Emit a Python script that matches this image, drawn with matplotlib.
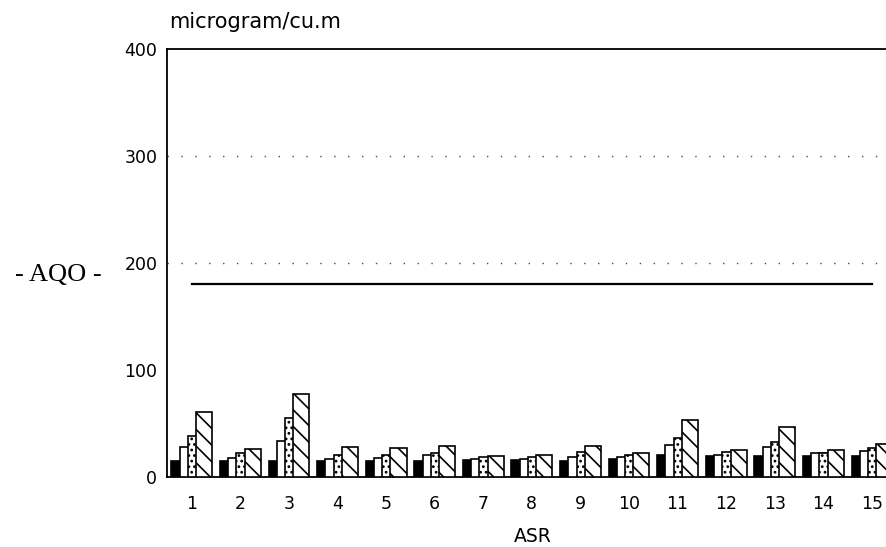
import matplotlib
matplotlib.use('Agg')
import matplotlib.pyplot as plt
import numpy as np

# ASR stations and the four measured series (microgram/cu.m)
stations = list(range(1, 16))
series_black = [15, 15, 15, 15, 15, 15, 16, 16, 15, 17, 21, 20, 20, 20, 20]
series_white = [28, 18, 34, 17, 18, 21, 17, 17, 19, 19, 30, 21, 28, 22, 24]
series_dotted = [38, 22, 55, 21, 21, 22, 19, 19, 23, 21, 36, 23, 33, 22, 27]
series_hatched = [61, 26, 78, 28, 27, 29, 20, 21, 29, 22, 53, 25, 47, 25, 31]
aqo_level = 180
ref_levels = [200, 300]
y_ticks = [0, 100, 200, 300, 400]

plt.rcParams['hatch.linewidth'] = 1.2

fig = plt.figure(figsize=(8.87, 5.47), dpi=100)
ax = fig.add_axes([167 / 887, 70 / 547, 1 - 167 / 887, 428 / 547])

x = np.array(stations)
width = 0.33
step = 0.17
styles = [
    (series_black, 'black', ''),
    (series_white, 'white', ''),
    (series_dotted, 'white', '...'),
    (series_hatched, 'white', '\\\\'),
]
for i, (vals, fc, hatch) in enumerate(styles):
    ax.bar(x + (i - 1.5) * step, vals, width=width, color=fc,
           edgecolor='black', linewidth=1.2, hatch=hatch, zorder=3 + i)

# faint dotted reference lines
for lvl in ref_levels:
    ax.axhline(lvl, color='0.3', linewidth=1.0, linestyle=(0, (1, 9)), zorder=1)

# AQO line
ax.plot([stations[0], stations[-1]], [aqo_level, aqo_level], color='black',
        linewidth=1.6, zorder=2)

ax.set_xlim(0.49, 15.31)
ax.set_ylim(0, 400)
ax.set_yticks(y_ticks)
ax.set_xticks(stations)
ax.tick_params(axis='both', length=0, labelsize=12.5)
ax.tick_params(axis='y', pad=7)
ax.tick_params(axis='x', pad=13)
ax.spines['right'].set_visible(False)
for s in ['left', 'top', 'bottom']:
    ax.spines[s].set_linewidth(1.3)

fig.text(169 / 887, 1 - 22 / 547, 'microgram/cu.m', fontsize=15,
         ha='left', va='center')
fig.text(533 / 887, 1 - 537 / 547, 'ASR', fontsize=13.5, ha='center', va='center')
fig.text(58 / 887, 1 - 275 / 547, '- AQO -', fontsize=19, family='Liberation Serif',
         ha='center', va='center')

fig.savefig('out.png', dpi=100)
